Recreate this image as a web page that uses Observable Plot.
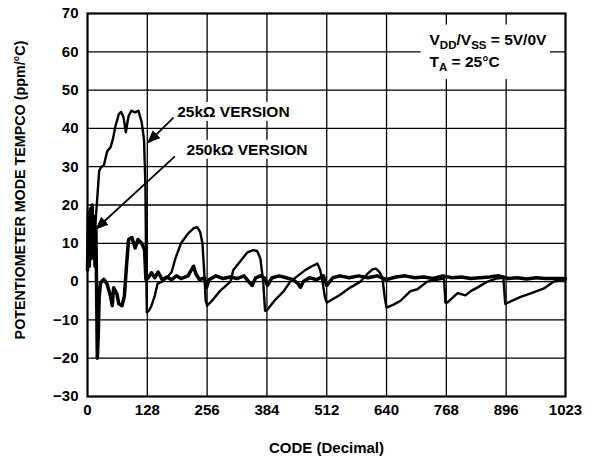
<!DOCTYPE html>
<html><head><meta charset="utf-8">
<script src="https://cdn.jsdelivr.net/npm/d3@7"></script>
<script src="https://cdn.jsdelivr.net/npm/@observablehq/plot@0.6"></script>
<style>
html,body{margin:0;padding:0;background:#fff;}
svg{display:block;}
</style>
</head><body>
<script>
// ---- data ----
const xTicks = [0, 128, 256, 384, 512, 640, 768, 896, 1023];
const yTicks = [-30, -20, -10, 0, 10, 20, 30, 40, 50, 60, 70];
const xTitle = "CODE (Decimal)";
const yTitle = "POTENTIOMETER MODE TEMPCO (ppm/°C)";

const code25k = [
  0, 3, 6, 9, 12, 15, 18, 21, 25, 30,
  35, 42, 49, 54, 60, 67, 72, 77, 82, 88,
  94, 102, 109, 116, 121, 124, 125, 126, 127, 132,
  137, 144, 150, 160, 170, 180, 188, 200, 215, 228,
  235, 241, 246, 250, 253, 256, 270, 284, 306, 312,
  325, 342, 355, 363, 370, 376, 380, 384, 400, 420,
  434, 450, 466, 480, 492, 498, 503, 508, 512, 540,
  563, 584, 599, 610, 617, 625, 631, 636, 640, 655,
  670, 691, 706, 727, 750, 763, 766, 770, 792, 809,
  820, 835, 856, 875, 890, 894, 900, 927, 950, 977,
  998, 1010, 1023];
const tempco25k = [
  5, 8, 6, 10, 8, 10, 17, 22, 29, 30,
  30.3, 34, 35, 37, 40.7, 43.7, 44.3, 43, 39, 43.3,
  44.6, 44.2, 44.6, 41.6, 37, 25, 10, 0, -8, -7.5,
  -6.3, -3.7, -0.5, 0, 1, 2.5, 6, 10, 12.5, 14,
  14.2, 13, 10, 2, -5, -6.3, -4.5, -2.4, 0, 3,
  5, 7.6, 8.2, 8, 6, 0, -7.6, -7.5, -5, -2.5,
  0, 1.5, 3, 4, 4.7, 3, 0, -4, -5.5, -3.5,
  -1.5, 0, 2, 3.2, 3.4, 2.5, 1, -4, -6.8, -6,
  -5, -2.5, -2, 0, 0.5, 0.8, -5.5, -5.5, -3, -3.6,
  -2.5, -1.5, 0, 0.8, 1, -5.8, -5.5, -4, -3, -1.8,
  0, 0.3, 0.5];

const code250k = [
  0, 2, 4, 6, 8, 10, 12, 14, 16, 18,
  20, 21, 23, 25, 28, 35, 42, 49, 53, 56,
  63, 67, 74, 79, 84, 88, 95, 102, 108, 116,
  122, 125, 130, 137, 144, 151, 160, 170, 180, 190,
  200, 215, 222, 227, 232, 240, 250, 255, 260, 275,
  290, 305, 320, 335, 345, 352, 360, 370, 380, 385,
  395, 410, 425, 440, 450, 456, 462, 475, 490, 505,
  512, 525, 540, 560, 580, 600, 620, 640, 660, 680,
  700, 720, 740, 760, 780, 800, 820, 840, 860, 880,
  900, 920, 940, 960, 980, 1000, 1023];
const tempco250k = [
  3, 18, 4, 19, 6, 20, 9, 17, 4, 14,
  -8, -20, -14, -4, -0.3, 0.6, -0.7, -3.7, -6.3, -1.6,
  -3.2, -5.8, -6.3, -3.7, 5, 11, 11.5, 8.8, 11, 10,
  8.4, 0.6, 1, 2.3, 1, 2.5, 0.5, 1.2, 0.5, 1.5,
  0.8, 1.5, 3, 4, 2, 0.5, 1, -1.5, 0.5, 1.5,
  0.8, 1.2, 0.8, 1.5, 0, -1, 1, 1.5, 0.8, -1,
  1, 1.5, 1, 0.5, -0.5, -1.5, 0, 1, 0.5, 1.5,
  -1, 1, 1.5, 1, 1.5, 1, 1.5, 0.5, 1.2, 1.5,
  1, 1.2, 0.8, 1.5, 1, 1.2, 0.8, 1, 1.2, 1.5,
  0.8, 1, 0.7, 1, 0.8, 0.8, 0.8];

const versionLabels = ["25kΩ VERSION", "250kΩ VERSION"];
const versionLabelCode = [192, 212];
const versionLabelValue = [44.3, 34.4];
const arrowFromCode = [184, 187];
const arrowFromValue = [42.8, 32.7];
const arrowToCode = [129.5, 18.5];
const arrowToValue = [36.3, 13.8];
const conditionLines = ["VDD/VSS = 5V/0V", "TA = 25°C"];
const conditionCode = [732, 732];
const conditionValue = [63.2, 57.3];

// ---- build tables ----
const d25 = code25k.map((c, i) => ({code: c, v: tempco25k[i]}));
const d250 = code250k.map((c, i) => ({code: c, v: tempco250k[i]}));
const vlab = versionLabels.map((t, i) => ({t, x: versionLabelCode[i], y: versionLabelValue[i]}));
const arrows = arrowFromCode.map((c, i) => ({x1: c, y1: arrowFromValue[i], x2: arrowToCode[i], y2: arrowToValue[i]}));
const cond = conditionLines.map((t, i) => ({t, x: conditionCode[i], y: conditionValue[i]}));

const font = "'Liberation Sans', Arial, Helvetica, sans-serif";

const plot = Plot.plot({
  width: 592, height: 462,
  marginLeft: 87, marginRight: 27, marginTop: 13, marginBottom: 66,
  style: {fontFamily: font, fontWeight: "bold", fontSize: "15px", color: "#000", background: "#fff"},
  x: {domain: [0, 1023], ticks: xTicks, tickSize: 0, tickPadding: 8, label: null, tickFormat: d => String(d)},
  y: {domain: [-30, 70], ticks: yTicks, tickSize: 0, tickPadding: 9, label: null},
  marks: [
    Plot.ruleX(xTicks.slice(1, -1), {stroke: "#000", strokeWidth: 1.3}),
    Plot.ruleY(yTicks.slice(1, -1), {stroke: "#000", strokeWidth: 1.3}),
    Plot.line(d250, {x: "code", y: "v", stroke: "#000", strokeWidth: 3.5, strokeLinejoin: "round", strokeLinecap: "round"}),
    Plot.line(d25, {x: "code", y: "v", stroke: "#000", strokeWidth: 2.4, strokeLinejoin: "round", strokeLinecap: "round"}),
    Plot.text(vlab, {x: "x", y: "y", text: "t", textAnchor: "start", fill: "#000", fontSize: 15.5, fontWeight: "bold"}),
    Plot.text(cond, {x: "x", y: "y", text: "t", textAnchor: "start", fill: "#000", fontSize: 15.5, fontWeight: "bold"}),
    Plot.link(arrows, {x1: "x1", y1: "y1", x2: "x2", y2: "y2", stroke: "#000", strokeWidth: 1.8}),
    Plot.frame({stroke: "#000", strokeWidth: 2.2}),
    Plot.text([xTitle], {frameAnchor: "bottom", dy: 56, fontSize: 15, fontWeight: "bold", fill: "#000"}),
    Plot.text([yTitle], {frameAnchor: "left", textAnchor: "middle", rotate: -90, dx: -67, dy: -15, fontSize: 14.3, fontWeight: "bold", fill: "#000"})
  ]
});
document.body.appendChild(plot);

// ---- post-processing: white backgrounds behind annotations, subscripts, filled arrowheads ----
const NS = "http://www.w3.org/2000/svg";
const svgRect = plot.getBoundingClientRect();
const textGroups = [...plot.querySelectorAll('g[aria-label="text"]')];
const versionGroup = textGroups.find(g => g.textContent.includes("VERSION"));
const condGroup = textGroups.find(g => g.textContent.includes("VDD"));
const linkGroup = plot.querySelector('g[aria-label="link"]');

function subscriptify(textEl, parts) {
  textEl.textContent = "";
  let shifted = false;
  for (const [s, sub] of parts) {
    const ts = document.createElementNS(NS, "tspan");
    ts.textContent = s;
    if (sub) {
      ts.setAttribute("font-size", "11.5");
      if (!shifted) { ts.setAttribute("dy", "4"); shifted = true; }
    } else if (shifted) { ts.setAttribute("dy", "-4"); shifted = false; }
    textEl.appendChild(ts);
  }
}
if (condGroup) {
  condGroup.querySelectorAll("text").forEach(t => {
    if (t.textContent.startsWith("VDD")) subscriptify(t, [["V", false], ["DD", true], ["/V", false], ["SS", true], [" = 5V/0V", false]]);
    else if (t.textContent.startsWith("TA")) subscriptify(t, [["T", false], ["A", true], [" = 25°C", false]]);
  });
}

function boxBehind(group, pads, union) {
  if (!group) return;
  const texts = [...group.querySelectorAll("text")];
  const boxes = texts.map(t => t.getBoundingClientRect());
  const sets = union ? [boxes] : boxes.map(b => [b]);
  for (const set of sets) {
    const x0 = Math.min(...set.map(b => b.left)) - svgRect.left - pads[3];
    const x1 = Math.max(...set.map(b => b.right)) - svgRect.left + pads[1];
    const y0 = Math.min(...set.map(b => b.top)) - svgRect.top - pads[0];
    const y1 = Math.max(...set.map(b => b.bottom)) - svgRect.top + pads[2];
    const r = document.createElementNS(NS, "rect");
    r.setAttribute("x", x0); r.setAttribute("y", y0);
    r.setAttribute("width", x1 - x0); r.setAttribute("height", y1 - y0);
    r.setAttribute("fill", "#fff");
    group.parentNode.insertBefore(r, group);
  }
}
boxBehind(versionGroup, [1, 4, 1, 4], false);
boxBehind(condGroup, [6, 3, 6, 9], true);

let defs = plot.querySelector("defs");
if (!defs) { defs = document.createElementNS(NS, "defs"); plot.insertBefore(defs, plot.firstChild); }
const marker = document.createElementNS(NS, "marker");
marker.setAttribute("id", "filled-head");
marker.setAttribute("viewBox", "0 0 12 10");
marker.setAttribute("refX", "11");
marker.setAttribute("refY", "5");
marker.setAttribute("markerUnits", "userSpaceOnUse");
marker.setAttribute("markerWidth", "13");
marker.setAttribute("markerHeight", "11");
marker.setAttribute("orient", "auto");
const mp = document.createElementNS(NS, "path");
mp.setAttribute("d", "M0,0L12,5L0,10Z");
mp.setAttribute("fill", "#000");
marker.appendChild(mp);
defs.appendChild(marker);
if (linkGroup) linkGroup.querySelectorAll("path").forEach(p => p.setAttribute("marker-end", "url(#filled-head)"));
</script>
</body></html>
